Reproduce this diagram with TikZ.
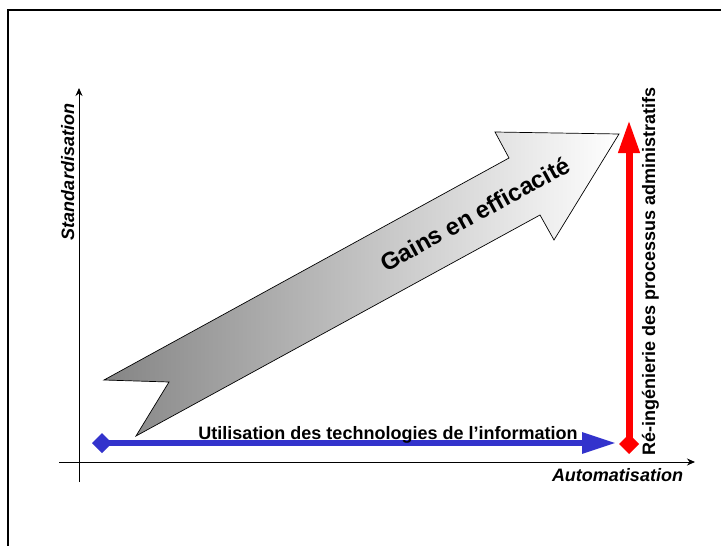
\documentclass[tikz,border=0pt]{standalone}
\usepackage{fontspec}
\setmainfont{Liberation Sans}
\usepackage{tikz}
\usetikzlibrary{arrows.meta,positioning,calc}
\definecolor{techblue}{HTML}{3333CC}

\begin{document}
\begin{tikzpicture}[x=1pt,y=-1pt,
    axis/.style={line width=1pt,-{Stealth[length=8pt,width=7pt]}},
    lbl/.style={font=\fontsize{18}{20}\selectfont\bfseries},
    axlbl/.style={font=\fontsize{18}{20}\selectfont\bfseries\itshape}]
    \useasboundingbox (0,0) rectangle (721,546);
    % Frame
    \draw[line width=2pt] (8,546) -- (8,10) -- (721,10);

    % Axes
    \coordinate (xs) at (59,462);
    \coordinate (xe) at (695,462);
    \coordinate (ys) at (79,482);
    \coordinate (ye) at (79,88);
    \draw[axis] (xs) -- (xe);
    \draw[axis] (ys) -- (ye);
    \node[axlbl,anchor=base] (automat) at (617.5,481) {Automatisation};
    \node[axlbl,anchor=base,rotate=90] (standard) at (74,172) {Standardisation};

    % Big gain arrow
    \draw[line width=0.7pt,left color=black!48,right color=white]
        (104,380) -- (509,158) -- (495,132) -- (619,134) -- (554,240)
        -- (540,215) -- (136,436) -- (169,382) -- cycle;
    \node[font=\fontsize{24}{28}\selectfont\bfseries,rotate=28.7] (gains) at (475,214) {Gains en efficacité};

    % Technology line
    \coordinate (techS) at (92,443);
    \coordinate (techE) at (616,443);
    \draw[techblue,line width=6pt,{Diamond[length=20pt,width=20pt]}-{Triangle[length=34pt,width=20pt]}] (techS) -- (techE);
    \node[lbl,anchor=base] (tech) at (388,439) {Utilisation des technologies de l’information};

    % Process re-engineering line
    \coordinate (procS) at (629,454);
    \coordinate (procE) at (629,120);
    \draw[red,line width=7pt,{Diamond[length=20pt,width=20pt]}-{Triangle[length=33pt,width=20pt]}] (procS) -- (procE);
    \node[lbl,anchor=base,rotate=90] (proc) at (655,271.5) {Ré-ingénierie des processus administratifs};
\end{tikzpicture}
\end{document}
